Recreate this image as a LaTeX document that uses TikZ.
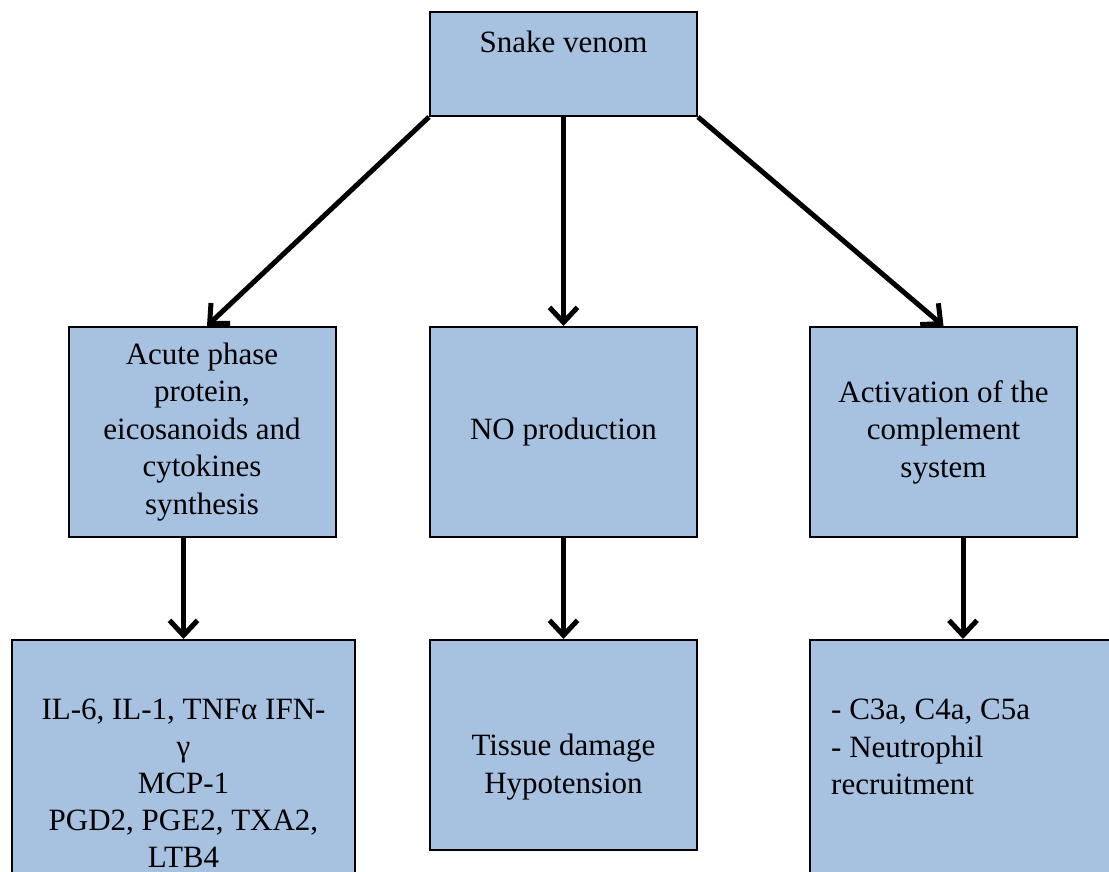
\documentclass[tikz,border=0pt]{standalone}
\usepackage{fontspec}
\setmainfont{Liberation Serif}
\usetikzlibrary{arrows.meta}
\definecolor{boxblue}{RGB}{167,193,224}

\begin{document}
\begin{tikzpicture}[x=1pt,y=-1pt,
    font=\fontsize{31}{37.5}\selectfont,
    box/.style={draw=black,line width=2pt,fill=boxblue,inner sep=0pt,
        minimum width=267pt,minimum height=210pt,align=center},
    flow/.style={line width=5pt,
        -{Straight Barb[length=15pt,width=28pt,line width=5pt]}},
]

    \useasboundingbox (0,0) rectangle (1109,872);
    \clip (0,0) rectangle (1109,872);

    % top
    \node[box,minimum height=104pt] (venom) at (563.5,64) {};
    \node (venomtxt) at (563.5,42) {Snake venom};

    % middle row
    \node[box] (acute) at (202,432)
        {Acute phase\\protein,\\eicosanoids and\\cytokines\\synthesis};
    \node[box] (noprod) at (563.5,432) {NO production};
    \node[box] (compl) at (943.5,432) {Activation of the\\complement\\system};

    % bottom row
    \node[box,minimum width=343pt,minimum height=260pt] (cyto) at (183.5,770) {};
    \node[align=center,inner sep=0pt,font=\fontsize{31}{37}\selectfont] (cytotxt) at (183.5,783)
        {IL-6, IL-1, TNFα IFN-\\γ\\MCP-1\\PGD2, PGE2, TXA2,\\LTB4};
    \node[box] (damage) at (563.5,745) {};
    \node[align=center] (damagetxt) at (563.5,767) {Tissue damage\\Hypotension};
    \node[box,minimum width=306pt,minimum height=260pt] (recruit) at (963,770) {};
    \node[align=left,anchor=west,inner sep=0pt] (recruittxt) at (831,747)
        {- C3a, C4a, C5a\\- Neutrophil\\recruitment};

    % arrows
    \draw[flow] (venom.south west) -- ([xshift=5pt]acute.north);
    \draw[flow] (venom.south) -- (noprod.north);
    \draw[flow] (venom.south east) -- (compl.north);
    \draw[flow] (acute.south -| cyto.north) -- (cyto.north);
    \draw[flow] (noprod.south) -- (damage.north);
    \draw[flow] (compl.south -| recruit.north) -- (recruit.north);

\end{tikzpicture}
\end{document}
